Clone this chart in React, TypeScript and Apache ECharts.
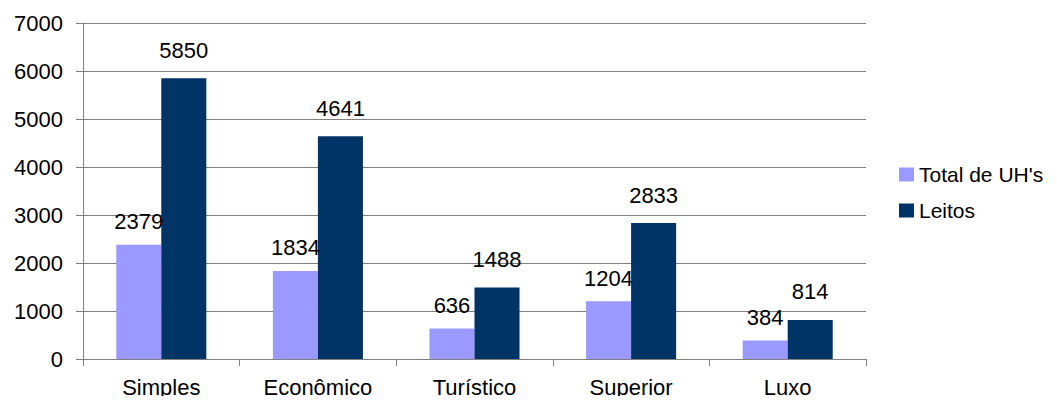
import React, { useEffect, useRef } from "react";
import * as echarts from "echarts";

const categories = ["Simples", "Econômico", "Turístico", "Superior", "Luxo"];
const totalUHs = [2379, 1834, 636, 1204, 384];
const leitos = [5850, 4641, 1488, 2833, 814];
const seriesNames = ["Total de UH's", "Leitos"];

export default function App() {
  const ref = useRef<HTMLDivElement>(null);
  useEffect(() => {
    if (!ref.current) return;
    const chart = echarts.init(ref.current, null, { renderer: "svg" });
    const font = "'Liberation Sans', Arial, sans-serif";
    const label = (distance: number) => ({
      show: true,
      position: "top" as const,
      distance,
      color: "#000",
      fontSize: 22,
      fontFamily: font,
    });
    chart.setOption({
      animation: false,
      backgroundColor: "#fff",
      textStyle: { fontFamily: font },
      grid: { left: 83, right: 191, top: 23, bottom: 45, containLabel: false },
      legend: {
        orient: "vertical",
        left: 894,
        top: 159,
        itemWidth: 15,
        itemHeight: 14,
        itemGap: 15,
        icon: "rect",
        textStyle: { fontSize: 21, color: "#000", fontFamily: font },
        data: seriesNames,
      },
      xAxis: {
        type: "category",
        data: categories,
        axisLine: { lineStyle: { color: "#808080", width: 1 } },
        axisTick: { show: true, length: 7, lineStyle: { color: "#808080" } },
        axisLabel: { color: "#000", fontSize: 22, fontFamily: font, margin: 17 },
      },
      yAxis: {
        type: "value",
        min: 0,
        max: 7000,
        interval: 1000,
        axisLine: { show: true, lineStyle: { color: "#808080", width: 1 } },
        axisTick: { show: true, length: 7, lineStyle: { color: "#808080" } },
        axisLabel: {
          color: "#000",
          fontSize: 22,
          fontFamily: font,
          margin: 20,
          formatter: (v: number) => String(v),
        },
        splitLine: { lineStyle: { color: "#808080", width: 1 } },
      },
      series: [
        {
          name: seriesNames[0],
          type: "bar",
          data: totalUHs,
          itemStyle: { color: "#9999FF" },
          barGap: "0%",
          barCategoryGap: "42.5%",
          label: label(12),
        },
        {
          name: seriesNames[1],
          type: "bar",
          data: leitos,
          itemStyle: { color: "#003366" },
          barGap: "0%",
          barCategoryGap: "42.5%",
          label: label(17),
        },
      ],
    });
    return () => chart.dispose();
  }, []);
  return <div ref={ref} style={{ width: 1057, height: 404, margin: -8 }} />;
}
